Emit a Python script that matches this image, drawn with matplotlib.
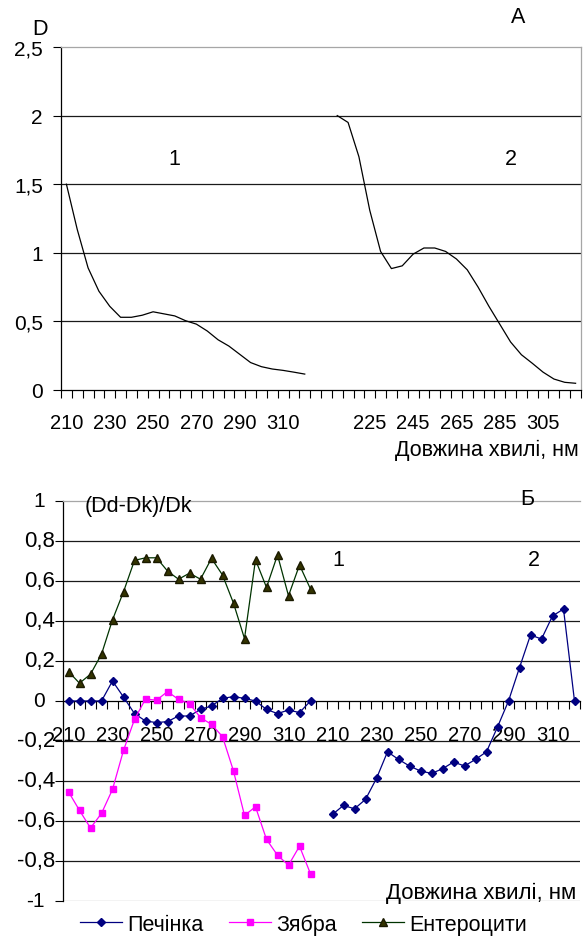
import numpy as np
import matplotlib
matplotlib.use('Agg')
import matplotlib.pyplot as plt

plt.rcParams['font.family'] = ['Liberation Sans', 'DejaVu Sans']
plt.rcParams['font.size'] = 14

# wavelengths, nm
wl = list(range(210, 325, 5))

# (A) optical density, curves 1 and 2
d_curve1 = [1.50, 1.17, 0.89, 0.72, 0.61, 0.53, 0.53, 0.545, 0.57, 0.555, 0.54, 0.505,
            0.48, 0.43, 0.366, 0.32, 0.26, 0.20, 0.17, 0.153, 0.143, 0.13, 0.116]
d_curve2 = [2.0, 1.95, 1.70, 1.31, 1.01, 0.885, 0.905, 0.99, 1.035, 1.035, 1.01, 0.955,
            0.876, 0.75, 0.61, 0.48, 0.35, 0.257, 0.195, 0.13, 0.08, 0.056, 0.049]

# (Б) (Dd-Dk)/Dk
liver_1 = [0, 0, 0, 0, 0.1, 0.02, -0.063, -0.1, -0.108, -0.103, -0.075, -0.075,
           -0.042, -0.025, 0.013, 0.022, 0.013, 0, -0.042, -0.063, -0.045, -0.058, 0]
liver_2 = [-0.567, -0.522, -0.539, -0.492, -0.387, -0.254, -0.292, -0.325, -0.35, -0.362,
           -0.339, -0.305, -0.325, -0.292, -0.254, -0.13, 0, 0.167, 0.33, 0.31, 0.425, 0.46, 0]
gills = [-0.454, -0.547, -0.635, -0.562, -0.442, -0.247, -0.092, 0.01, 0.004, 0.047, 0.008,
         -0.013, -0.083, -0.117, -0.178, -0.35, -0.572, -0.529, -0.692, -0.771, -0.821, -0.726, -0.864]
entero = [0.147, 0.089, 0.134, 0.234, 0.406, 0.546, 0.703, 0.716, 0.716, 0.65, 0.609, 0.639,
          0.609, 0.713, 0.63, 0.489, 0.312, 0.706, 0.568, 0.73, 0.526, 0.68, 0.56]

# category axes: two wavelength runs separated by blank categories
cats_top = [str(w) for w in wl] + ['', ''] + [str(w) for w in wl]
cats_bot = [str(w) for w in wl] + [''] + [str(w) for w in wl]

nan = np.nan
n = len(wl)

GRID = '#1a1a1a'
BORDER = '#a6a6a6'
TXT = 15.5


def setup_category_axis(ax, cats, pad):
    idx = np.arange(len(cats))
    ax.set_xlim(-0.5, len(cats) - 0.5)
    ax.set_xticks(np.arange(-0.5, len(cats)), minor=True)
    ax.set_xticks(idx[::4], labels=[cats[i] for i in idx[::4]])
    ax.tick_params(axis='x', which='major', length=0, pad=pad, labelsize=14.5)
    ax.tick_params(axis='x', which='minor', length=5.8, width=0.8, direction='out')


fig = plt.figure(figsize=(5.84, 9.37), dpi=100)

# ---------------- panel A ----------------
ax1 = fig.add_axes([61 / 584, 1 - 391 / 937, 520 / 584, 343 / 937])
x_top = np.arange(len(cats_top))
s1 = np.array(d_curve1 + [nan] * (len(cats_top) - n))
s2 = np.array([nan] * (len(cats_top) - n) + d_curve2)
ax1.plot(x_top, s1, color='black', lw=0.9, zorder=3)
ax1.plot(x_top, s2, color='black', lw=0.9, zorder=3)

ax1.set_ylim(0, 2.5)
ax1.set_yticks([0, 0.5, 1, 1.5, 2, 2.5], labels=['0', '0,5', '1', '1,5', '2', '2,5'])
ax1.tick_params(axis='y', length=5.8, width=0.8, pad=7.2, labelsize=15)
for y in [0.5, 1, 1.5, 2]:
    ax1.axhline(y, color=GRID, lw=0.9, zorder=1)
setup_category_axis(ax1, cats_top, 16.5)

ax1.spines['left'].set_color('black')
ax1.spines['bottom'].set_color('black')
ax1.spines['top'].set_color(BORDER)
ax1.spines['right'].set_color(BORDER)
for sp in ax1.spines.values():
    sp.set_linewidth(0.9)

ax1.text(-0.04, 1.055, 'D', transform=ax1.transAxes, fontsize=TXT, ha='center', va='center')
ax1.text(41.7, 2.72, 'A', fontsize=TXT, ha='center', va='center')
ax1.text(10, 1.69, '1', fontsize=TXT, ha='center', va='center')
ax1.text(41, 1.69, '2', fontsize=TXT, ha='center', va='center')
ax1.text(47.3, -0.43, 'Довжина хвилі, нм', fontsize=TXT, ha='right', va='center')

# ---------------- panel Б ----------------
ax2 = fig.add_axes([63 / 584, 1 - 902 / 937, 517 / 584, 400 / 937])
x_bot = np.arange(len(cats_bot))
liver = np.array(liver_1 + [nan] + liver_2)
gills_s = np.array(gills + [nan] * (len(cats_bot) - n))
entero_s = np.array(entero + [nan] * (len(cats_bot) - n))

l1, = ax2.plot(x_bot, liver, color='#000080', lw=0.9, marker='D', ms=4,
               mfc='#000080', mec='#000080', label='Печінка', zorder=3)
l2, = ax2.plot(x_bot, gills_s, color='#ff00ff', lw=0.9, marker='s', ms=4.2,
               mfc='#ff00ff', mec='#ff00ff', label='Зябра', zorder=3)
l3, = ax2.plot(x_bot, entero_s, color='#003300', lw=0.9, marker='^', ms=6,
               mfc='#333300', mec='#1a1a00', label='Ентероцити', zorder=3)

ax2.set_ylim(-1, 1)
yt = [1, 0.8, 0.6, 0.4, 0.2, 0, -0.2, -0.4, -0.6, -0.8, -1]
ax2.set_yticks(yt, labels=[''] * len(yt))
ax2.tick_params(axis='y', length=5.8, width=0.8)
for y in yt:
    lab = ('%g' % y).replace('.', ',')
    whole = float(y).is_integer()
    xoff = -18 / 517 if whole else -8 / 517
    ax2.text(xoff, y, lab, transform=ax2.get_yaxis_transform(),
             fontsize=15 if whole else 16, ha='right', va='center')
for y in [0.8, 0.6, 0.4, 0.2, -0.2, -0.4, -0.6, -0.8]:
    ax2.axhline(y, color=GRID, lw=0.9, zorder=1)
ax2.axhline(-1, color=BORDER, lw=0.9, zorder=1)
setup_category_axis(ax2, cats_bot, 17.5)

ax2.spines['bottom'].set_position(('data', 0))
ax2.spines['bottom'].set_color('black')
ax2.spines['left'].set_color('black')
ax2.spines['top'].set_color(BORDER)
ax2.spines['right'].set_visible(False)
for sp in ax2.spines.values():
    sp.set_linewidth(0.9)

ax2.text(1.5, 0.975, '(Dd-Dk)/Dk', fontsize=TXT, ha='left', va='center')
ax2.text(41.7, 1.01, 'Б', fontsize=TXT, ha='center', va='center')
ax2.text(24.5, 0.705, '1', fontsize=TXT, ha='center', va='center')
ax2.text(42.3, 0.705, '2', fontsize=TXT, ha='center', va='center')
ax2.text(46.2, -0.955, 'Довжина хвилі, нм', fontsize=TXT + 0.5, ha='right', va='center')

fig.legend(handles=[l1, l2, l3], loc='center left', bbox_to_anchor=(80 / 584, 1 - 925 / 937),
           ncol=3, frameon=False, fontsize=TXT, handlelength=1.95, handletextpad=0.23,
           columnspacing=1.2, borderpad=0, borderaxespad=0)

fig.savefig('out.png', dpi=100)
